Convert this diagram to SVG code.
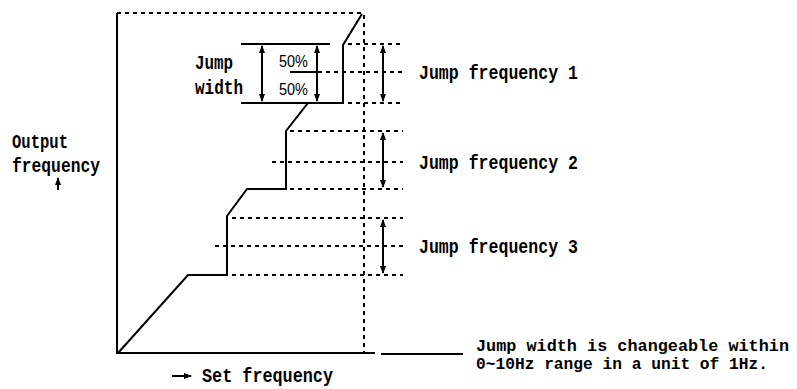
<svg xmlns="http://www.w3.org/2000/svg" width="797" height="389" viewBox="0 0 797 389">
<style>
.s{stroke:#000;stroke-width:2;fill:none;stroke-linejoin:miter}
.d{stroke:#000;stroke-width:2;fill:none;stroke-dasharray:4 4}
.t{font-family:"Liberation Mono",monospace;font-weight:bold;fill:#000}
.p{font-family:"Liberation Sans",sans-serif;fill:#000}
</style>
<defs>
<marker id="ah" viewBox="0 0 8 8" refX="7" refY="4" markerWidth="8" markerHeight="8" markerUnits="userSpaceOnUse" orient="auto-start-reverse">
<path d="M0,1 L8,4 L0,7 Z" fill="#000"/>
</marker>
</defs>
<rect width="797" height="389" fill="#fff"/>
<g id="axes">
<path class="s" d="M117,13 V353 H375"/>
<path class="s" d="M381,354 H463"/>
<path class="d" d="M117,13 H362"/>
<path class="d" d="M364,15 V353"/>
</g>
<g id="curve">
<path class="s" d="M118,353 L188,275 H227 V216 L247,189 H286 V131 L308,103 H343 V45 L362,14"/>
</g>
<g id="jump-width">
<path class="s" d="M241,44 H330"/>
<path class="s" d="M241,103 H308"/>
<path class="s" d="M290,72 H318"/>
<text class="t" x="195" y="69" font-size="20" textLength="38" lengthAdjust="spacingAndGlyphs">Jump</text>
<text class="t" x="195" y="94" font-size="20" textLength="48" lengthAdjust="spacingAndGlyphs">width</text>
<text class="p" x="279" y="67" font-size="16" textLength="29" lengthAdjust="spacingAndGlyphs">50%</text>
<text class="p" x="279" y="95" font-size="16" textLength="29" lengthAdjust="spacingAndGlyphs">50%</text>
</g>
<g id="jump-frequency-1">
<path class="d" d="M348,44 H403 M318,72 H403 M348,103 H403"/>
<text class="t" x="419" y="79" font-size="21" textLength="159" lengthAdjust="spacingAndGlyphs">Jump frequency 1</text>
</g>
<g id="jump-frequency-2">
<path class="d" d="M290,131 H403 M272,162 H403 M290,189 H403"/>
<text class="t" x="419" y="169" font-size="21" textLength="159" lengthAdjust="spacingAndGlyphs">Jump frequency 2</text>
</g>
<g id="jump-frequency-3">
<path class="d" d="M232,218 H403 M215,246 H403 M232,275 H403"/>
<text class="t" x="419" y="253" font-size="21" textLength="159" lengthAdjust="spacingAndGlyphs">Jump frequency 3</text>
</g>
<g id="output-label">
<text class="t" x="12" y="148" font-size="20" textLength="56" lengthAdjust="spacingAndGlyphs">Output</text>
<text class="t" x="12" y="172" font-size="20" textLength="88" lengthAdjust="spacingAndGlyphs">frequency</text>
</g>
<g id="set-label">
<text class="t" x="202" y="382" font-size="21" textLength="131" lengthAdjust="spacingAndGlyphs">Set frequency</text>
</g>
<g id="note">
<text class="t" x="476" y="351" font-size="17" textLength="313" lengthAdjust="spacingAndGlyphs">Jump width is changeable within</text>
<text class="t" x="476" y="369" font-size="17" textLength="292" lengthAdjust="spacingAndGlyphs">0~10Hz range in a unit of 1Hz.</text>
</g>
<g id="connectors">
<path class="s" d="M262,46 V101" marker-start="url(#ah)" marker-end="url(#ah)" stroke-width="1.6"/>
<path class="s" d="M317,46 V101" marker-start="url(#ah)" marker-end="url(#ah)" stroke-width="1.6"/>
<path class="s" d="M383,46 V101" marker-start="url(#ah)" marker-end="url(#ah)" stroke-width="1.6"/>
<path class="s" d="M383,133 V187" marker-start="url(#ah)" marker-end="url(#ah)" stroke-width="1.6"/>
<path class="s" d="M383,220 V273" marker-start="url(#ah)" marker-end="url(#ah)" stroke-width="1.6"/>
<path class="s" d="M58,190 V178" marker-end="url(#ah)" stroke-width="1.6"/>
<path class="s" d="M172,376 H191" marker-end="url(#ah)" stroke-width="1.6"/>
</g>
</svg>
